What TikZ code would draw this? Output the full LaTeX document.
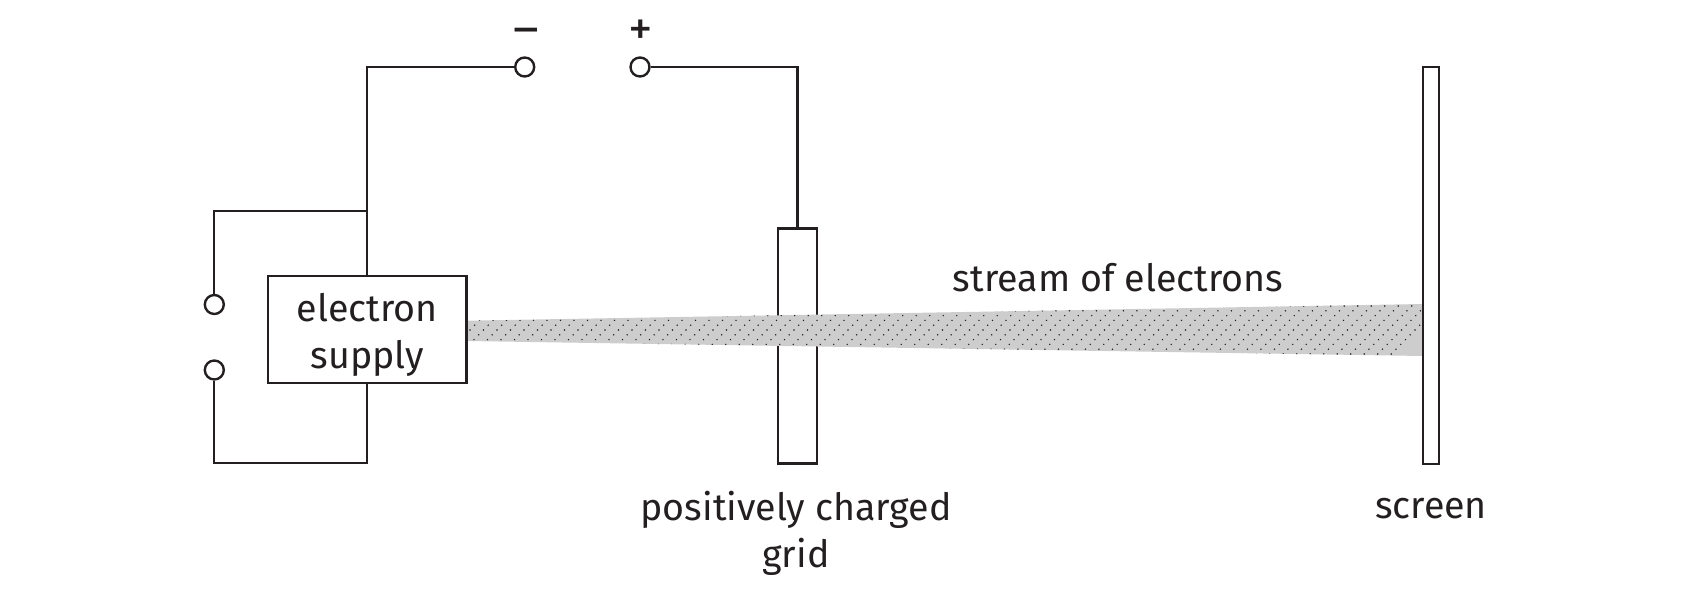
\documentclass[tikz,border=0pt]{standalone}
\usepackage{fontspec}
\setmainfont{Fira Sans}
\definecolor{inkline}{HTML}{231F20}
\definecolor{beamgray}{HTML}{CDCDCD}
\tikzset{
  wire/.style={draw=inkline, line width=1.35pt},
  terminal/.style={wire, circle, fill=white, minimum size=0.38cm, inner sep=0pt},
  plate/.style={wire, rectangle, fill=white, inner sep=0pt},
  label/.style={text=inkline, align=center, inner sep=0pt, font=\fontsize{21.4}{26.8}\selectfont},
  sign/.style={text=inkline, inner sep=0pt, font=\fontsize{28}{28}\selectfont},
}
\begin{document}
\begin{tikzpicture}[x=0.02cm, y=-0.02cm]
  \useasboundingbox (0, 0) rectangle (1692, 598);

  \node[plate, minimum width=0.78cm, minimum height=4.7cm] (grid) at (797.5, 346) {};

  % beam passes over the grid
  \fill[beamgray] (467, 320.7) -- (1423, 304) -- (1423, 356) -- (467, 341) -- cycle;
  \begin{scope}
    \clip (467, 320.7) -- (1423, 304) -- (1423, 356) -- (467, 341) -- cycle;
    \fill[inkline] \foreach \j in {-1, ..., 11} {
      \foreach \i in {-70, ..., 6} {
        ({1357.7 - 4.75*\j + 13.5*\i}, {306 + 4.8*\j}) circle (0.8)
      }
    };
  \end{scope}

  \node[plate, minimum width=0.33cm, minimum height=7.94cm] (screen) at (1431, 265.5) {};
  \node[plate, minimum width=3.97cm, minimum height=2.14cm] (supply) at (367.3, 329.5) {};
  \node[label] (supplyname) at (367.3, 335) {electron\\supply};

  \node[terminal] (neg) at (524.7, 67) {};
  \node[terminal] (pos) at (640, 67) {};
  \node[terminal] (upper) at (214.3, 304.5) {};
  \node[terminal] (lower) at (214.3, 370) {};
  \coordinate (junction) at (367.3, 210.7);
  \coordinate (corner) at (367.3, 463);

  \draw[wire] (neg.west) -| (supply.north);
  \draw[wire] (junction) -| (upper.north);
  \draw[wire] (lower.south) |- (corner) -- (supply.south);
  \draw[wire] (pos.east) -| (grid.north);

  \node[sign] (minus) at (526.7, 37) {–};
  \node[sign] (plus) at (641, 33) {+};
  \node[label] (stream) at (1118, 278) {stream of electrons};
  \node[label] (gridname) at (796, 533) {positively charged\\grid};
  \node[label] (screenname) at (1431, 509) {screen};
\end{tikzpicture}
\end{document}
